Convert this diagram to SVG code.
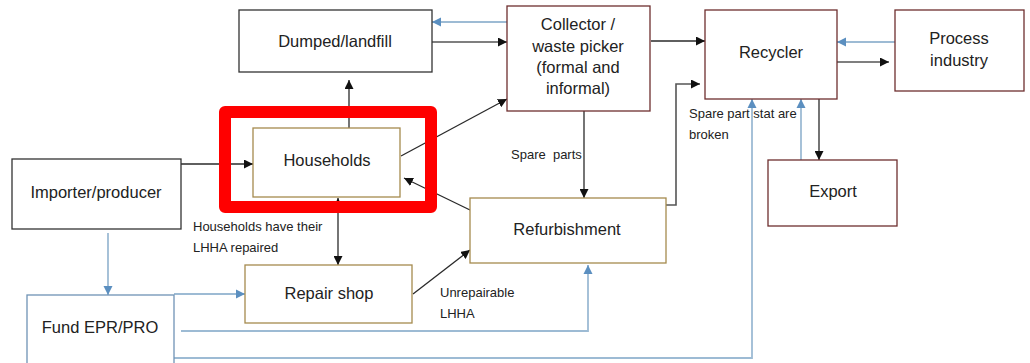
<svg xmlns="http://www.w3.org/2000/svg" width="1030" height="363" viewBox="0 0 1030 363">
  <style>
    .box { fill: #ffffff; stroke-width: 1.3; }
    .dark { stroke: #333333; }
    .maroon { stroke: #6e2e2e; }
    .tan { stroke: #a58a4e; }
    .steel { stroke: #6f93b5; }
    .lbl { font-family: "Liberation Sans", Arial, sans-serif; font-size: 16.5px; fill: #222222; text-anchor: middle; }
    .note { font-family: "Liberation Sans", Arial, sans-serif; font-size: 13px; fill: #222222; }
    .flow { fill: none; stroke: #2a2a2a; stroke-width: 1.3; marker-end: url(#arrowDark); }
    .flowGray { fill: none; stroke: #555555; stroke-width: 1.6; marker-end: url(#arrowDark); }
    .fund { fill: none; stroke: #9dbbd4; stroke-width: 1.8; marker-end: url(#arrowBlue); }
    .highlight { fill: none; stroke: #ff0000; stroke-width: 12; stroke-linejoin: round; }
  </style>
  <defs>
    <marker id="arrowDark" viewBox="0 0 10 10" refX="10" refY="5" markerWidth="9" markerHeight="9" markerUnits="userSpaceOnUse" orient="auto-start-reverse">
      <path d="M0,0 L10,5 L0,10 z" fill="#111111"/>
    </marker>
    <marker id="arrowBlue" viewBox="0 0 10 10" refX="10" refY="5" markerWidth="9" markerHeight="10" markerUnits="userSpaceOnUse" orient="auto-start-reverse">
      <path d="M0,0 L10,5 L0,10 z" fill="#5b8fc0"/>
    </marker>
  </defs>

  <rect width="1030" height="363" fill="#ffffff"/>

  <!-- material and money flows -->
  <g id="connectors">
    <path class="fund" d="M507,22 H432"/>
    <path class="flowGray" d="M432,42 H507"/>
    <path class="flow" d="M349,128 V80"/>
    <path class="flow" d="M181,164 H253"/>
    <path class="flow" d="M401,156 L507,99"/>
    <path class="flow" d="M470,210 L404,178"/>
    <path class="flow" d="M338,198 V265" marker-start="url(#arrowDark)"/>
    <path class="flow" d="M413,294 L470,250"/>
    <path class="flow" d="M584,111 V198"/>
    <path class="flow" d="M651,41 H705"/>
    <path class="flowGray" d="M664,205 H676 V84 H700"/>
    <path class="fund" d="M895,42 H837"/>
    <path class="flowGray" d="M837,62 H889"/>
    <path class="flow" d="M819,99 V160"/>
    <path class="fund" d="M801,160 V99"/>
    <path class="fund" d="M174,358 H752 V99"/>
    <path class="fund" d="M181,331 H588 V265"/>
    <path class="fund" d="M174,294 H245"/>
    <path class="fund" d="M108,233 V295"/>
  </g>

  <!-- flow annotations -->
  <g id="labels">
    <text class="note" x="193" y="231">Households have their</text>
    <text class="note" x="193" y="252">LHHA repaired</text>
    <text class="note" x="511" y="159" xml:space="preserve">Spare  parts</text>
    <text class="note" x="689" y="118">Spare part stat are</text>
    <text class="note" x="689" y="139">broken</text>
    <text class="note" x="440" y="297">Unrepairable</text>
    <text class="note" x="440" y="318">LHHA</text>
  </g>

  <g id="dumped">
    <rect class="box dark" x="239" y="10" width="193" height="62"/>
    <text class="lbl" x="335" y="47">Dumped/landfill</text>
  </g>
  <g id="collector">
    <rect class="box maroon" x="507" y="6" width="143" height="105"/>
    <text class="lbl" x="578" y="30">Collector /</text>
    <text class="lbl" x="578" y="52">waste picker</text>
    <text class="lbl" x="578" y="73">(formal and</text>
    <text class="lbl" x="578" y="94">informal)</text>
  </g>
  <g id="recycler">
    <rect class="box maroon" x="705" y="10" width="132" height="89"/>
    <text class="lbl" x="771" y="58">Recycler</text>
  </g>
  <g id="process-industry">
    <rect class="box maroon" x="895" y="10" width="129" height="81"/>
    <text class="lbl" x="959" y="44">Process</text>
    <text class="lbl" x="959" y="66">industry</text>
  </g>
  <g id="export">
    <rect class="box maroon" x="768" y="160" width="129" height="66"/>
    <text class="lbl" x="833" y="197">Export</text>
  </g>
  <g id="households">
    <rect class="box tan" x="253" y="128" width="147" height="69"/>
    <text class="lbl" x="327" y="166">Households</text>
  </g>
  <g id="importer">
    <rect class="box dark" x="12" y="159" width="169" height="70"/>
    <text class="lbl" x="96" y="198">Importer/producer</text>
  </g>
  <g id="repair-shop">
    <rect class="box tan" x="245" y="265" width="167" height="58"/>
    <text class="lbl" x="329" y="299">Repair shop</text>
  </g>
  <g id="refurbishment">
    <rect class="box tan" x="470" y="198" width="196" height="65"/>
    <text class="lbl" x="567" y="235">Refurbishment</text>
  </g>
  <g id="fund">
    <rect class="box steel" x="27" y="295" width="147" height="80"/>
    <text class="lbl" x="100" y="333">Fund EPR/PRO</text>
  </g>

  <!-- emphasis frame around the households node -->
  <rect id="households-highlight" class="highlight" x="225" y="112" width="206" height="95"/>
</svg>
